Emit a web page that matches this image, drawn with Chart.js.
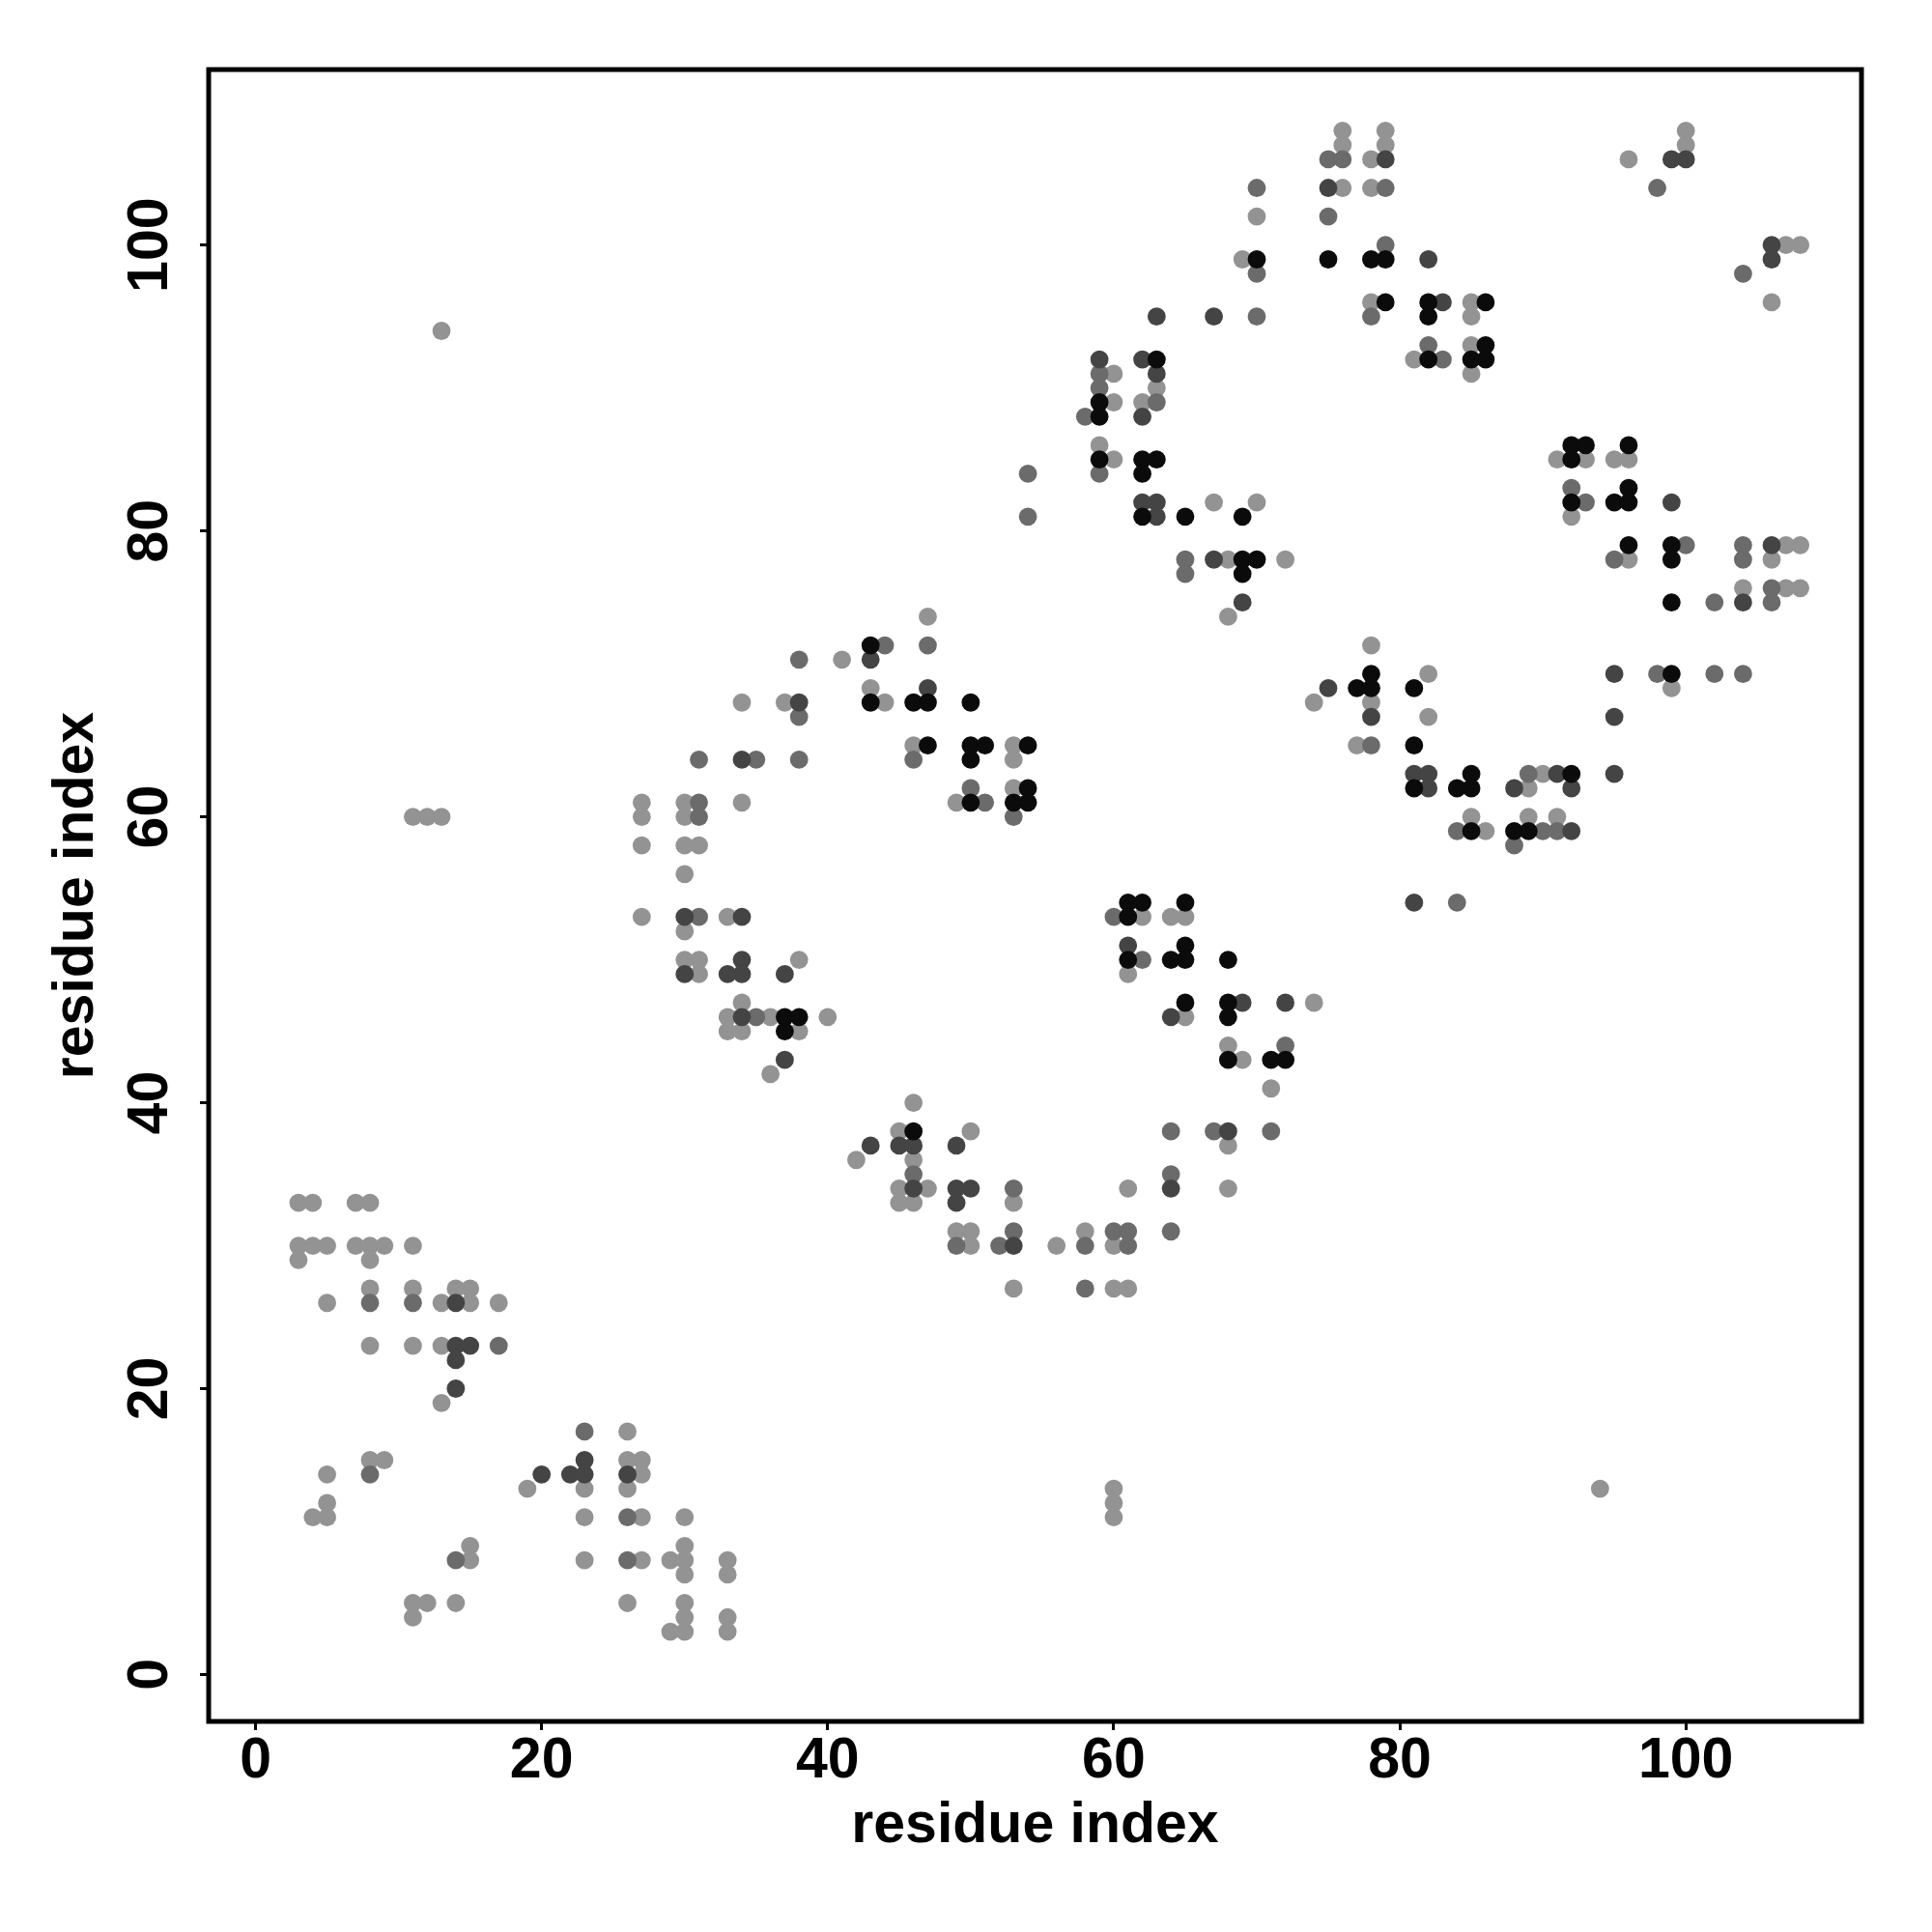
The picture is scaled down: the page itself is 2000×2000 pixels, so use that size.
<!DOCTYPE html>
<html>
<head>
<meta charset="utf-8">
<script src="https://cdn.jsdelivr.net/npm/chart.js@4.4.1/dist/chart.umd.min.js"></script>
<style>
  body { margin: 0; background: #fff; }
</style>
</head>
<body>
<canvas id="contactMap" width="2000" height="2000"></canvas>
<script>
// contacts [i, j], grouped by how dark the dot is drawn
var lightContacts = [
  [3,33],[4,33],[7,33],[8,33],[3,30],[4,30],[5,30],[7,30],[8,30],[9,30],[11,30],[3,29],[8,29],
  [8,27],[11,27],[14,27],[15,27],[5,26],[13,26],[15,26],[17,26],[8,23],[11,23],[13,23],[13,19],
  [8,15],[9,15],[5,14],[5,12],[4,11],[5,11],[15,9],[15,8],[11,5],[12,5],[14,5],[11,4],
  [19,13],[26,17],[26,15],[27,15],[27,14],[23,13],[26,13],[23,11],[27,11],[30,11],[30,9],
  [23,8],[27,8],[29,8],[30,8],[33,8],[30,7],[33,7],[26,5],[30,5],[30,4],[33,4],[29,3],[30,3],[33,3],
  [41,71],[34,68],[37,68],[27,61],[30,61],[34,61],[27,60],[30,60],[27,58],[30,58],[31,58],[30,56],
  [27,53],[33,53],[30,52],[30,50],[31,50],[38,50],[31,49],[34,47],[33,46],[36,46],[40,46],
  [33,45],[34,45],[38,45],[36,42],
  [47,74],[43,69],[44,68],[46,65],[53,65],[53,64],[53,62],[49,61],
  [46,40],[45,38],[50,38],[42,36],[46,36],[45,34],[47,34],[61,34],[45,33],[46,33],[53,33],
  [49,31],[50,31],[58,31],[50,30],[56,30],[60,30],[53,27],[60,27],[61,27],
  [62,53],[64,53],[65,53],[61,49],[65,46],[74,47],[68,44],[69,43],[71,41],[68,37],[68,34],
  [60,91],[63,90],[60,89],[62,89],[59,86],[60,85],[67,82],[70,82],[68,78],[72,78],[68,74],
  [69,99],[70,102],
  [76,108],[79,108],[76,107],[79,107],[78,106],[76,104],[78,104],[78,96],[85,96],[85,95],
  [85,93],[81,92],[85,91],
  [78,72],[82,70],[74,68],[78,68],[82,67],[77,65],[90,63],[89,62],[85,60],[89,60],[91,60],[86,59],
  [91,85],[93,85],[95,85],[96,85],[92,81],[107,79],[108,79],[96,78],[106,78],[104,76],[107,76],
  [108,76],[99,69],
  [100,108],[100,107],[107,100],[108,100],[106,96],[96,106],
  [13,94],[11,60],[12,60],[13,60],[60,11],[60,12],[60,13],[94,13]
];
var midContacts = [
  [8,26],[11,26],[17,23],[8,14],[14,8],
  [23,17],[26,11],[26,8],
  [38,71],[38,67],[31,64],[35,64],[38,64],[31,61],[31,60],[31,53],[35,46],
  [44,72],[47,72],[46,64],[50,62],[51,61],[53,60],
  [46,35],[53,34],[53,31],[60,31],[61,31],[49,30],[52,30],[58,30],[61,30],[58,27],
  [60,53],[62,50],[72,44],[64,38],[67,38],[71,38],[64,35],[64,31],
  [70,95],[59,91],[59,90],[63,89],[58,88],[59,84],[54,84],[54,81],[65,78],[65,77],
  [70,98],[70,104],
  [75,106],[76,106],[79,104],[75,102],[79,100],[78,95],[82,93],[83,92],
  [78,65],[89,63],[84,59],[90,59],[91,59],[88,58],[84,54],
  [92,83],[93,82],[100,79],[104,79],[95,78],[104,78],[106,76],[102,75],[106,75],[98,70],
  [102,70],[104,70],
  [98,104],[104,98]
];
var darkContacts = [
  [14,26],[14,23],[15,23],[14,22],[14,20],
  [23,15],[20,14],[22,14],[23,14],[26,14],
  [38,68],[34,64],[30,53],[34,53],[34,50],[30,49],[33,49],[34,49],[37,49],[34,46],[37,43],
  [43,71],[47,69],
  [43,37],[45,37],[46,37],[49,37],[46,34],[49,34],[50,34],[49,33],[53,30],
  [61,51],[69,47],[72,47],[64,46],[68,38],[64,34],
  [63,95],[67,95],[59,92],[62,92],[63,91],[62,88],[62,82],[63,82],[63,81],[67,78],[69,75],
  [79,106],[75,104],[82,99],[83,96],
  [95,70],[75,69],[78,67],[95,67],[81,63],[82,63],[91,63],[95,63],[82,62],[88,62],[92,62],
  [92,59],[81,54],
  [99,82],[106,79],[104,75],
  [99,106],[100,106],[106,100],[106,99]
];
var blackContacts = [
  [37,46],[38,46],[37,45],
  [43,72],[43,68],[46,68],[47,68],[50,68],[47,65],[50,65],[51,65],[54,65],[50,64],[54,62],
  [50,61],[53,61],[54,61],
  [46,38],
  [61,54],[62,54],[65,54],[61,53],[65,51],[61,50],[64,50],[65,50],[68,50],[65,47],[68,47],
  [68,46],[68,43],[71,43],[72,43],
  [63,92],[59,89],[59,88],[59,85],[62,85],[63,85],[62,84],[62,81],[65,81],[69,81],[69,78],
  [70,78],[69,77],[70,99],
  [75,99],[78,99],[79,99],[79,96],[82,96],[86,96],[82,95],[86,93],[82,92],[85,92],[86,92],
  [78,70],[77,69],[78,69],[81,69],[81,65],[85,63],[92,63],[81,62],[84,62],[85,62],[85,59],
  [88,59],[89,59],
  [92,86],[93,86],[96,86],[92,85],[96,83],[92,82],[95,82],[96,82],[96,79],[99,79],[99,78],
  [99,75],[99,70]
];
var tickValues = [0, 20, 40, 60, 80, 100];
var axisMin = -3.28, axisMax = 112.28;

var labelFont = { family: 'Liberation Sans', size: 59, weight: 'bold' };

function toPoints(list) {
  return list.map(function (p) { return { x: p[0], y: p[1] }; });
}

function fixTicks(axis) {
  axis.ticks = tickValues.map(function (v) { return { value: v }; });
}

var frameAndLabels = {
  id: 'frameAndLabels',
  afterDraw: function (chart) {
    var ctx = chart.ctx, area = chart.chartArea, yScale = chart.scales.y;
    ctx.save();
    ctx.strokeStyle = '#000';
    ctx.lineWidth = 5;
    ctx.strokeRect(area.left, area.top, area.right - area.left, area.bottom - area.top);
    // y tick labels, rotated like base R
    ctx.fillStyle = '#000';
    ctx.font = 'bold 59px "Liberation Sans"';
    ctx.textAlign = 'center';
    ctx.textBaseline = 'alphabetic';
    tickValues.forEach(function (v) {
      var y = yScale.getPixelForValue(v);
      ctx.save();
      ctx.translate(173, y);
      ctx.rotate(-Math.PI / 2);
      ctx.fillText(String(v), 0, 0);
      ctx.restore();
    });
    ctx.restore();
  }
};

var shades = [
  { data: lightContacts, color: '#939393' },
  { data: midContacts, color: '#6b6b6b' },
  { data: darkContacts, color: '#444444' },
  { data: blackContacts, color: '#0b0b0b' }
];

new Chart(document.getElementById('contactMap'), {
  type: 'scatter',
  data: {
    datasets: shades.map(function (s, i) {
      return {
        data: toPoints(s.data),
        backgroundColor: s.color,
        borderWidth: 0,
        pointRadius: 9.4,
        pointHoverRadius: 9.4,
        order: 4 - i
      };
    })
  },
  options: {
    responsive: false,
    animation: false,
    layout: { padding: { top: 72, right: 73, bottom: 0, left: 0 } },
    plugins: { legend: { display: false }, tooltip: { enabled: false } },
    scales: {
      x: {
        type: 'linear',
        min: axisMin,
        max: axisMax,
        afterBuildTicks: fixTicks,
        afterFit: function (scale) { scale.height = 218; },
        border: { display: false },
        grid: { drawOnChartArea: false, drawTicks: true, tickLength: 9, tickWidth: 3, tickColor: '#000' },
        ticks: { font: labelFont, color: '#000', padding: -3, maxRotation: 0, minRotation: 0, autoSkip: false },
        title: { display: true, text: 'residue index', font: labelFont, color: '#000', padding: { top: 0, bottom: 74 } }
      },
      y: {
        type: 'linear',
        min: axisMin,
        max: axisMax,
        afterBuildTicks: fixTicks,
        afterFit: function (scale) { scale.width = 216; },
        border: { display: false },
        grid: { drawOnChartArea: false, drawTicks: true, tickLength: 9, tickWidth: 3, tickColor: '#000' },
        ticks: { display: false },
        title: { display: true, text: 'residue index', font: labelFont, color: '#000', padding: { top: 44, bottom: 0 } }
      }
    }
  },
  plugins: [frameAndLabels]
});
</script>
</body>
</html>
